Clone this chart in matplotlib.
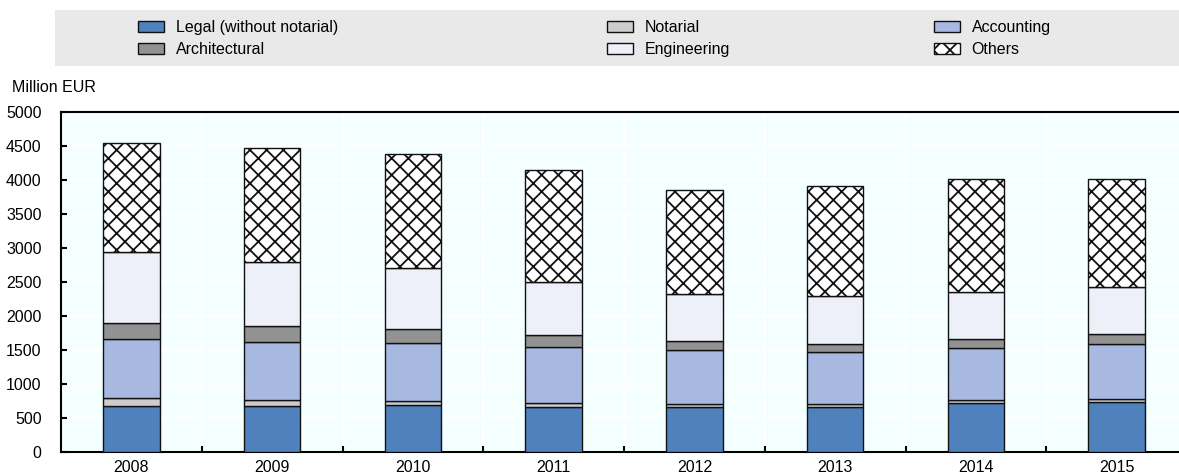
import numpy as np
import matplotlib
matplotlib.use("Agg")
import matplotlib.pyplot as plt
from matplotlib.patches import Rectangle, Patch

plt.rcParams['font.family'] = ['Liberation Sans', 'DejaVu Sans']
plt.rcParams['hatch.linewidth'] = 1.3

years = ["2008", "2009", "2010", "2011", "2012", "2013", "2014", "2015"]
legal = [681, 676, 686, 657, 667, 667, 716, 730]
notarial = [118, 93, 69, 64, 44, 44, 44, 49]
accounting = [858, 849, 848, 823, 794, 755, 774, 814]
architectural = [245, 235, 211, 177, 132, 122, 133, 147]
engineering = [1034, 936, 897, 784, 682, 706, 690, 691]
others = [1613, 1682, 1671, 1637, 1534, 1618, 1653, 1579]

series = [
    ("Legal (without notarial)", legal, "#4F81BD", None),
    ("Notarial", notarial, "#CCCCCC", None),
    ("Accounting", accounting, "#A7B8E1", None),
    ("Architectural", architectural, "#929292", None),
    ("Engineering", engineering, "#EDF0F8", None),
    ("Others", others, "#FFFFFF", "xx"),
]

fs = 11.5

fig = plt.figure(figsize=(11.79, 4.76), dpi=100)
ax = fig.add_axes([61 / 1179, 1 - 452 / 476, 1126 / 1179, 340 / 476])
ax.set_facecolor("#F4FFFF")

x = np.arange(len(years))
bottom = np.zeros(len(years))
handles = {}
for name, vals, col, hatch in series:
    vals = np.array(vals, dtype=float)
    ax.bar(x, vals, 0.4, bottom=bottom, color=col, edgecolor="#111111",
           linewidth=1.0, hatch=hatch, zorder=3)
    handles[name] = Patch(facecolor=col, edgecolor="#111111", linewidth=1.0, hatch=hatch)
    bottom += vals

ax.set_xlim(-0.5, len(years) - 0.5)
ax.set_ylim(0, 5000)
ax.set_yticks(np.arange(0, 5001, 500))
ax.set_xticks(x)
ax.set_xticklabels(years)
ax.set_xticks(np.arange(0.5, len(years) - 1, 1), minor=True)
ax.tick_params(axis="x", which="major", length=0, pad=6, labelsize=fs)
ax.tick_params(axis="x", which="minor", direction="in", length=4, width=1.5)
ax.tick_params(axis="y", direction="in", length=4, width=1.5, pad=14, labelsize=fs)
ax.grid(axis="y", color="white", linewidth=1.5, zorder=0)
ax.grid(axis="x", which="minor", color="white", linewidth=1.5, zorder=0)
for s in ["left", "bottom", "top"]:
    ax.spines[s].set_linewidth(1.5)
    ax.spines[s].set_color("black")
ax.spines["right"].set_visible(False)

fig.text(12 / 1179, 1 - 88 / 476, "Million EUR", fontsize=fs, va="center", ha="left")

# legend band
fig.add_artist(Rectangle((55 / 1179, 1 - 66 / 476), 1.0, 56 / 476,
                         transform=fig.transFigure, facecolor="#E9E9E9",
                         edgecolor="none", zorder=0))
cols = [
    (["Legal (without notarial)", "Architectural"], 138),
    (["Notarial", "Engineering"], 607),
    (["Accounting", "Others"], 934),
]
for names, xpix in cols:
    fig.legend([handles[n] for n in names], names, loc="upper left",
               bbox_to_anchor=(xpix / 1179, 1 - 20 / 476), frameon=False,
               fontsize=fs, handlelength=1.6, handleheight=0.75,
               handletextpad=0.75, labelspacing=0.45, borderpad=0,
               borderaxespad=0)

fig.savefig("out.png", dpi=100)
